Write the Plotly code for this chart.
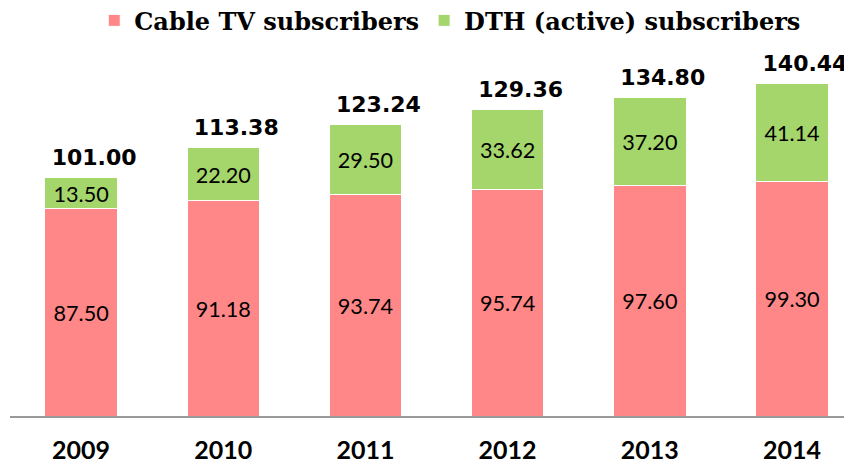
import plotly.graph_objects as go

years = ["2009", "2010", "2011", "2012", "2013", "2014"]
cable = [87.50, 91.18, 93.74, 95.74, 97.60, 99.30]
dth = [13.50, 22.20, 29.50, 33.62, 37.20, 41.14]
totals = [101.00, 113.38, 123.24, 129.36, 134.80, 140.44]

label_font = "Lato, Open Sans, sans-serif"
x_range = [-0.5, 5.394]
px_per_cat = 142.2
label_dx = 13 / px_per_cat  # total labels sit slightly right of bar centre

fig = go.Figure()
fig.add_trace(go.Bar(
    x=years, y=cable, name="Cable TV subscribers",
    marker=dict(color="#FF8787", line=dict(width=1, color="white")),
    text=[f"{v:.2f}" for v in cable], textposition="inside",
    insidetextanchor="middle",
    textfont=dict(size=25, color="black", family=label_font),
))
fig.add_trace(go.Bar(
    x=years, y=dth, name="DTH (active) subscribers",
    marker=dict(color="#A4D66B", line=dict(width=1, color="white")),
    text=[f"{v:.2f}" for v in dth], textposition="inside",
    insidetextanchor="middle",
    textfont=dict(size=25, color="black", family=label_font),
))
fig.add_trace(go.Scatter(
    x=list(range(len(years))), y=[t + 7.6 for t in totals], xaxis="x2",
    mode="text", text=[f"<b>{t:.2f}</b>" for t in totals], textposition="middle center",
    textfont=dict(size=22, color="black", family="DejaVu Sans, sans-serif"),
    showlegend=False, hoverinfo="skip", cliponaxis=False,
))

fig.update_layout(
    barmode="stack", bargap=0.49,
    width=844, height=456,
    margin=dict(l=2, r=4, t=32, b=48, autoexpand=False),
    plot_bgcolor="white", paper_bgcolor="white",
    uniformtext=dict(mode="show", minsize=10),
    legend=dict(orientation="h", traceorder="normal",
                x=0.524, xanchor="center", xref="container",
                y=0.972, yanchor="middle", yref="container",
                font=dict(family="DejaVu Serif, serif", size=24, color="black", weight="bold"),
                itemwidth=30, tracegroupgap=0),
    xaxis=dict(range=x_range, showline=True, linecolor="#999999", linewidth=2,
               ticks="", tickfont=dict(size=25, color="black", family=label_font, weight="bold"),
               ticklabelstandoff=11, showgrid=False, automargin=False),
    xaxis2=dict(range=[x_range[0] - label_dx, x_range[1] - label_dx], overlaying="x",
                visible=False, showgrid=False, automargin=False),
    yaxis=dict(range=[0, 158.9], visible=False, showgrid=False, automargin=False),
)
fig.write_html("out.html")
